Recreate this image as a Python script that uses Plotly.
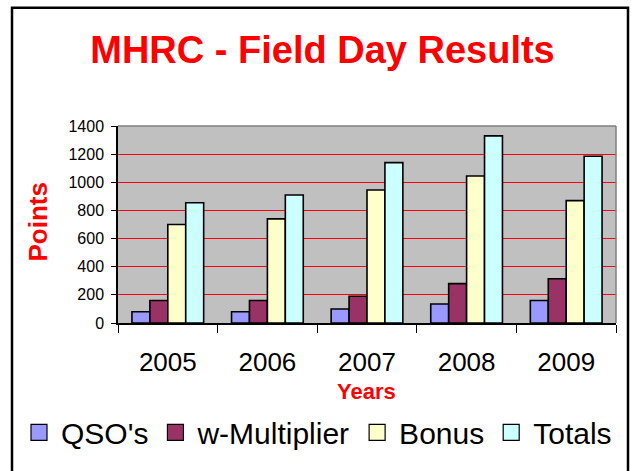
import plotly.graph_objects as go

years = ["2005", "2006", "2007", "2008", "2009"]
series_names = ["QSO's", "w-Multiplier", "Bonus", "Totals"]
qsos = [80, 80, 100, 135, 160]
w_multiplier = [160, 160, 190, 280, 315]
bonus = [700, 740, 945, 1045, 870]
totals = [855, 910, 1140, 1330, 1185]
y_ticks = [0, 200, 400, 600, 800, 1000, 1200, 1400]

colors = ["#9999FF", "#993366", "#FFFFCC", "#CCFFFF"]
values = [qsos, w_multiplier, bonus, totals]

FONT = "Liberation Sans, Arial, sans-serif"
W, H = 631, 471
L, R, T, B = 118, 15, 126, 145
PW, PH = W - L - R, H - T - B

fig = go.Figure()
for name, vals, col in zip(series_names, values, colors):
    fig.add_trace(go.Bar(x=years, y=vals, name=name, showlegend=False,
                         marker=dict(color=col, line=dict(color="black", width=1.6))))
for name, col in zip(series_names, colors):
    fig.add_trace(go.Scatter(x=[None], y=[None], mode="markers", name=name,
                             marker=dict(symbol="square", size=16, color=col,
                                         line=dict(color="black", width=1.2))))

def px(x):
    return (x - L) / PW

def py(y):
    return (H - B - y) / PH

shapes = [
    # outer chart border
    dict(type="rect", xref="paper", yref="paper", x0=px(12), x1=px(628), y0=py(490), y1=py(6),
         line=dict(color="black", width=2.5), layer="above"),
    # plot area border (top & right)
    dict(type="line", xref="paper", yref="paper", x0=0, x1=1, y0=1, y1=1,
         line=dict(color="#808080", width=1.5), layer="above"),
    dict(type="line", xref="paper", yref="paper", x0=1, x1=1, y0=0, y1=1,
         line=dict(color="#808080", width=1.5), layer="above"),
]

annotations = [
    dict(text="Years", xref="paper", yref="paper", x=px(366), y=py(396),
         xanchor="center", yanchor="middle", showarrow=False,
         font=dict(family=FONT, size=22, color="#FF0000", weight="bold")),
    dict(text="Points", xref="paper", yref="paper", x=px(38), y=py(224),
         xanchor="center", yanchor="middle", showarrow=False, textangle=-90,
         font=dict(family=FONT, size=26, color="#FF0000", weight="bold")),
]

fig.update_layout(
    template="none",
    width=W, height=H,
    margin=dict(l=L, r=R, t=T, b=B, pad=0),
    paper_bgcolor="white",
    plot_bgcolor="#C0C0C0",
    barmode="group",
    bargap=0.28,
    bargroupgap=0,
    font=dict(family=FONT, color="black"),
    title=dict(text="MHRC - Field Day Results", xref="container", yref="container",
               x=322.5 / W, xanchor="center", y=1 - 50 / H, yanchor="middle",
               font=dict(family=FONT, size=38, color="#FF0000", weight="bold")),
    xaxis=dict(type="category", range=[-0.5, 4.5], showgrid=False, zeroline=False,
               showline=True, linecolor="black", linewidth=1.5,
               ticks="outside", tickson="boundaries", ticklen=8, tickcolor="black", tickwidth=1,
               tickfont=dict(size=26, color="black"), ticklabelstandoff=15,
               automargin=False),
    yaxis=dict(range=[0, 1400], tickvals=y_ticks, showgrid=True, gridcolor="#FF0000", gridwidth=1,
               zeroline=False, showline=True, linecolor="black", linewidth=1.5,
               ticks="outside", ticklen=5, tickcolor="black", tickwidth=1,
               tickfont=dict(size=16, color="black"), ticklabelstandoff=4,
               automargin=False),
    legend=dict(orientation="h", xref="paper", yref="paper",
                x=px(17), xanchor="left", y=py(437), yanchor="middle",
                font=dict(family=FONT, size=30, color="black"),
                bgcolor="rgba(0,0,0,0)", traceorder="normal", itemwidth=34),
    shapes=shapes,
    annotations=annotations,
)

fig.write_html("out.html", config={"displayModeBar": False},
               post_script="document.body.style.margin='0';document.body.style.overflow='hidden';")
